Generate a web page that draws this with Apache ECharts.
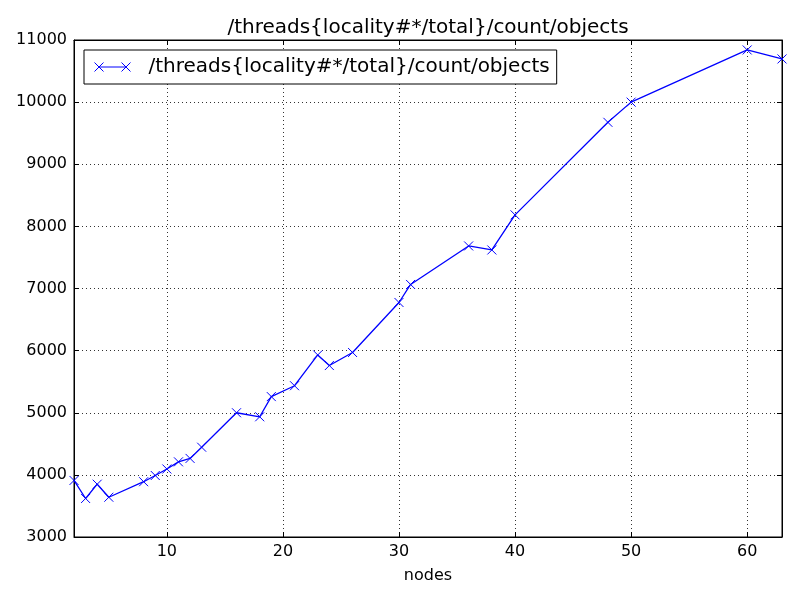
<!DOCTYPE html>
<html>
<head>
<meta charset="utf-8">
<script src="https://cdn.jsdelivr.net/npm/echarts@6/dist/echarts.min.js"></script>
<style>
  html, body { margin: 0; padding: 0; background: #fff; }
  #chart { width: 800px; height: 600px; }
</style>
</head>
<body>
<div id="chart"></div>
<script>
// Chart data
var seriesName = '/threads{locality#*/total}/count/objects';
var nodes = [2, 3, 4, 5, 8, 9, 10, 11, 12, 13, 16, 18, 19, 21, 23, 24, 26, 30, 31, 36, 38, 40, 48, 50, 60, 63];
var objects = [3910, 3620, 3850, 3640, 3890, 3990, 4095, 4210, 4265, 4445, 5000, 4935, 5260, 5435, 5930, 5760, 5970, 6775, 7065, 7685, 7620, 8185, 9675, 10000, 10840, 10695];

var points = nodes.map(function (n, i) { return [n, objects[i]]; });

var chart = echarts.init(document.getElementById('chart'));

var font = 'DejaVu Sans, sans-serif';
var gridLine = { lineStyle: { color: '#333', width: 1, type: [1, 3] } };
var xMarker = 'path://M0,0L10,10M10,0L0,10';
var plain = function (v) { return String(v); };

chart.setOption({
    animation: false,
    textStyle: { fontFamily: font },

    title: {
        text: seriesName,
        left: 428,
        top: 18,
        padding: 0,
        textAlign: 'center',
        textStyle: { fontFamily: font, fontSize: 20, fontWeight: 'normal', color: '#000' }
    },

    grid: { left: 74, right: 18, top: 40, bottom: 63, show: true, borderColor: '#000', borderWidth: 1 },

    legend: {
        left: 84,
        top: 50,
        orient: 'vertical',
        padding: [7, 7, 7, 10],
        borderColor: '#000',
        borderWidth: 1,
        backgroundColor: '#fff',
        borderRadius: 0,
        itemWidth: 36,
        itemHeight: 9,
        icon: 'path://M4.5,4.5L31.5,4.5M0,0L9,9M9,0L0,9M27,0L36,9M36,0L27,9',
        itemStyle: { color: 'transparent', borderColor: '#0000ff', borderWidth: 1 },
        textStyle: { fontFamily: font, fontSize: 20, color: '#000', padding: [0, 0, 0, 13] },
        data: [seriesName]
    },

    xAxis: [{
        type: 'value',
        min: 2,
        max: 63,
        splitNumber: 6,
        name: 'nodes',
        nameLocation: 'middle',
        nameGap: 31,
        nameTextStyle: { fontFamily: font, fontSize: 16, color: '#000' },
        axisLine: { show: true, lineStyle: { color: '#000', width: 1 } },
        axisTick: { show: true, inside: true, length: 5, lineStyle: { color: '#000' } },
        axisLabel: { margin: 7, fontFamily: font, fontSize: 16, color: '#000', showMinLabel: false, showMaxLabel: false, formatter: plain },
        splitLine: gridLine
    }, {
        type: 'value',
        position: 'top',
        min: 2,
        max: 63,
        splitNumber: 6,
        axisLine: { show: true, lineStyle: { color: '#000', width: 1 } },
        axisTick: { show: true, inside: true, length: 5, lineStyle: { color: '#000' } },
        axisLabel: { show: false },
        splitLine: { show: false }
    }],

    yAxis: [{
        type: 'value',
        min: 3000,
        max: 11000,
        interval: 1000,
        axisLine: { show: true, lineStyle: { color: '#000', width: 1 } },
        axisTick: { show: true, inside: true, length: 5, lineStyle: { color: '#000' } },
        axisLabel: { margin: 7, fontFamily: font, fontSize: 16, color: '#000', formatter: plain },
        splitLine: gridLine
    }, {
        type: 'value',
        position: 'right',
        min: 3000,
        max: 11000,
        interval: 1000,
        axisLine: { show: true, lineStyle: { color: '#000', width: 1 } },
        axisTick: { show: true, inside: true, length: 5, lineStyle: { color: '#000' } },
        axisLabel: { show: false },
        splitLine: { show: false }
    }],

    series: [{
        name: seriesName,
        type: 'line',
        xAxisIndex: 0,
        yAxisIndex: 0,
        data: points,
        symbol: xMarker,
        symbolSize: 9,
        showAllSymbol: true,
        lineStyle: { color: '#0000ff', width: 1.3 },
        itemStyle: { color: 'transparent', borderColor: '#0000ff', borderWidth: 1 }
    }]
});
</script>
</body>
</html>
